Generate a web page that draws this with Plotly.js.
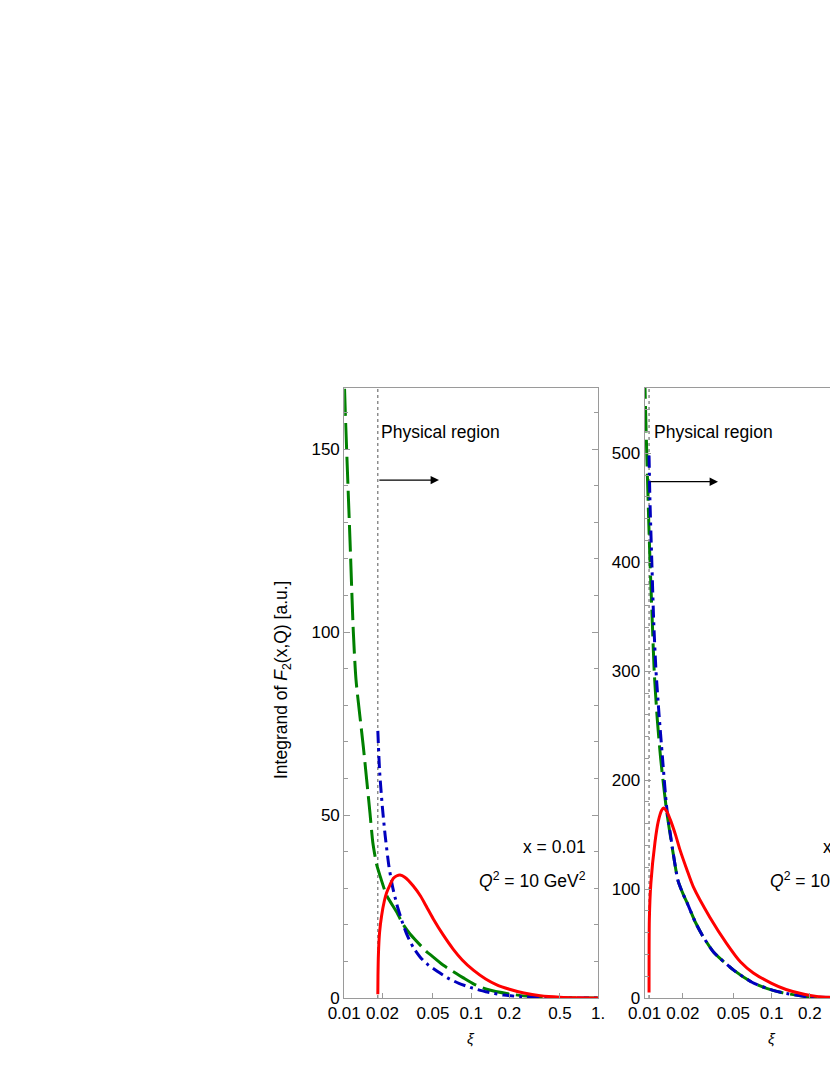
<!DOCTYPE html>
<html>
<head>
<meta charset="utf-8">
<script src="https://cdn.plot.ly/plotly-3.0.1.min.js"></script>
<style>
html,body{margin:0;padding:0;overflow:hidden;background:#fff;}
#chart{width:1000px;height:1075px;}
</style>
</head>
<body>
<div id="chart"></div>
<script>
// ---------------- data ----------------
// Left panel: x = 0.01, Q^2 = 10 GeV^2
const threshLeft = 0.0184;
const greenLeftXi  = [0.0100,0.01006,0.01046,0.01111,0.0118,0.01239,0.01414,0.01596,0.0168,0.0180,0.0191,0.0216,0.0259,0.0292,0.033,0.0447,0.0474,0.0600,0.0769,0.0867,0.1050,0.1324,0.20,0.30,0.50,1.0];
const greenLeftVal = [185,166.7,149.5,125,100,86.9,68.7,50.5,42.5,36.5,33.5,28,23.5,20,17.5,12.6,11.9,9.0,6.6,5.5,3.8,2.4,1.1,0.35,0.05,0];
const blueLeftXi   = [0.0184,0.0190,0.0200,0.0210,0.0225,0.0240,0.0260,0.0285,0.0310,0.0350,0.0400,0.0460,0.0540,0.0650,0.0800,0.0980,0.130,0.180,0.250,0.400,1.0];
const blueLeftVal  = [73,62,52,44.5,36,30.5,25.5,21,17.5,13.8,11,9,7.3,5.5,4.0,2.9,1.7,0.8,0.35,0.08,0];
const redLeftXi    = [0.0184,0.01845,0.0186,0.0190,0.0197,0.0207,0.0216,0.0230,0.0244,0.0260,0.0275,0.0300,0.0350,0.0400,0.0447,0.0503,0.0600,0.0723,0.0850,0.1040,0.130,0.159,0.200,0.260,0.350,0.500,0.700,1.0];
const redLeftVal   = [1,6,12,18,22.5,26.5,28.8,31,32.7,33.4,33.6,33.0,30.6,27.8,24.8,21.6,17.3,13.3,10.4,7.6,5.2,3.6,2.4,1.35,0.6,0.2,0.05,0];

// Right panel: x = 0.01, Q^2 = 100 GeV^2
const threshRight = 0.01084;
const greenRightXi  = [0.0100,0.0102,0.0104,0.0107,0.0110,0.0115,0.0119,0.0126,0.0134,0.0149,0.0165,0.0183,0.0200,0.0215,0.0250,0.0290,0.0350,0.0500,0.0700,0.0914,0.120,0.189,0.300,0.500,1.0];
const greenRightVal = [575,535,500,450,405,345,300,255,219,172,138,108,96,88,70,56,42,25.8,14.5,8.9,5,1.2,0.3,0.05,0];
const blueRightXi   = [0.01084,0.0110,0.0114,0.0118,0.0123,0.0130,0.0138,0.0149,0.0165,0.0183,0.0200,0.0215,0.0250,0.0290,0.0350,0.0500,0.0700,0.0914,0.120,0.189,0.300,0.500,1.0];
const blueRightVal  = [498,460,400,345,300,260,222,176,139,108,96,88,70,56,42,25.8,14.5,8.9,5,1.2,0.3,0.05,0];
const redRightXi    = [0.01084,0.01090,0.0112,0.01207,0.0128,0.01364,0.0141,0.0150,0.0159,0.0175,0.0190,0.0215,0.0242,0.0327,0.0443,0.0570,0.0718,0.100,0.130,0.180,0.2265,0.300,0.500,1.0];
const redRightVal   = [5,72,105,143,162,172.5,174.5,171,164,150,136,118,102,74,50,33,23,13.5,7.8,3.4,1.5,0.6,0.1,0];

const xTickVals = [0.01,0.02,0.05,0.1,0.2,0.5,1];
const xTickText = ['0.01','0.02','0.05','0.1','0.2','0.5','1.'];
const yMaxLeft = 166.67;
const yMaxRight = 560;

// ---------------- styling ----------------
const FONT = 'Liberation Sans, Arial, Helvetica, sans-serif';
const FS = 17;
const FA = 17.5;
const FRAME = '#9a9a9a';
const GREEN = 'rgb(0,128,0)';
const BLUE = 'rgb(0,0,190)';
const RED = 'rgb(255,0,0)';
const W = 1000, H = 1075;

function curve(x, y, color, dash, xa, ya) {
  return {x: x, y: y, xaxis: xa, yaxis: ya, type: 'scatter', mode: 'lines',
    line: {color: color, width: 3, dash: dash, shape: 'spline', smoothing: 0.6},
    hoverinfo: 'skip', showlegend: false};
}
function vline(t, ymax, xa, ya) {
  return {x: [t, t], y: [0, ymax], xaxis: xa, yaxis: ya, type: 'scatter', mode: 'lines',
    line: {color: '#555', width: 1, dash: 'dot'}, hoverinfo: 'skip', showlegend: false};
}
const GDASH = '27px,7px';
const BDASH = '12px,5px,3px,5px';

const data = [
  vline(threshLeft, yMaxLeft, 'x', 'y'),
  curve(greenLeftXi, greenLeftVal, GREEN, GDASH, 'x', 'y'),
  curve(blueLeftXi, blueLeftVal, BLUE, BDASH, 'x', 'y'),
  curve(redLeftXi, redLeftVal, RED, 'solid', 'x', 'y'),
  vline(threshRight, yMaxRight, 'x2', 'y2'),
  curve(greenRightXi, greenRightVal, GREEN, GDASH, 'x2', 'y2'),
  curve(blueRightXi, blueRightVal, BLUE, BDASH, 'x2', 'y2'),
  curve(redRightXi, redRightVal, RED, 'solid', 'x2', 'y2')
];

const yDom = [77 / H, 687 / H];
function xAxis(dom, anchor) {
  return {type: 'log', domain: dom, anchor: anchor, range: [-2, 0],
    tickmode: 'array', tickvals: xTickVals, ticktext: xTickText,
    ticks: 'inside', ticklen: 5, tickcolor: FRAME, tickwidth: 1,
    showline: true, linecolor: FRAME, linewidth: 1, mirror: true,
    showgrid: false, zeroline: false, fixedrange: true,
    tickfont: {family: FONT, size: FS, color: '#000'}};
}
function yAxis(anchor, ymax, dtick, minor) {
  return {domain: yDom, anchor: anchor, range: [0, ymax], tick0: 0, dtick: dtick,
    ticks: 'inside', ticklen: 6, tickcolor: FRAME, tickwidth: 1,
    minor: {dtick: minor, tick0: 0, ticks: 'inside', ticklen: 4, tickcolor: FRAME, tickwidth: 1},
    showline: true, linecolor: FRAME, linewidth: 1, mirror: 'ticks',
    showgrid: false, zeroline: false, fixedrange: true,
    tickfont: {family: FONT, size: FS, color: '#000'}};
}

const txt = {family: FONT, size: FA, color: '#000'};
const annotations = [
  // y title
  {xref: 'paper', yref: 'paper', x: 282 / W, y: (H - 680) / H, textangle: -90,
   text: 'Integrand of <i>F</i><sub>2</sub>(x,Q) [a.u.]', showarrow: false,
   xanchor: 'center', yanchor: 'middle', font: txt},
  // x titles
  {xref: 'x domain', yref: 'paper', x: 0.5, y: (H - 1038) / H, text: '<i>ξ</i>',
   showarrow: false, xanchor: 'center', yanchor: 'middle', font: {family: FONT, size: 15, color: '#000'}},
  {xref: 'x2 domain', yref: 'paper', x: 0.5, y: (H - 1038) / H, text: '<i>ξ</i>',
   showarrow: false, xanchor: 'center', yanchor: 'middle', font: {family: FONT, size: 15, color: '#000'}},
  // physical region labels
  {xref: 'x domain', yref: 'y domain', x: 0.137, y: 0.928, text: 'Physical region',
   showarrow: false, xanchor: 'left', yanchor: 'middle', font: txt},
  {xref: 'x2 domain', yref: 'y2 domain', x: 0.029, y: 0.928, text: 'Physical region',
   showarrow: false, xanchor: 'left', yanchor: 'middle', font: txt},
  // arrows
  {xref: 'x', yref: 'y', axref: 'x', ayref: 'y', x: -1.2535, y: 141.5, ax: Math.log10(threshLeft), ay: 141.5,
   text: '', showarrow: true, arrowhead: 2, arrowsize: 1.4, arrowwidth: 1.2, arrowcolor: '#000', standoff: 0, startstandoff: 0},
  {xref: 'x2', yref: 'y2', axref: 'x2', ayref: 'y2', x: -1.422, y: 474, ax: Math.log10(threshRight), ay: 474,
   text: '', showarrow: true, arrowhead: 2, arrowsize: 1.4, arrowwidth: 1.2, arrowcolor: '#000', standoff: 0, startstandoff: 0},
  // kinematics labels
  {xref: 'x domain', yref: 'y domain', x: 0.958, y: (998 - 847) / 610, text: 'x = 0.01',
   showarrow: false, xanchor: 'right', yanchor: 'middle', font: txt},
  {xref: 'x domain', yref: 'y domain', x: 0.958, y: (998 - 880) / 610, text: '<i>Q</i><sup>2</sup> = 10 GeV<sup>2</sup>',
   showarrow: false, xanchor: 'right', yanchor: 'middle', font: txt},
  {xref: 'x2 domain', yref: 'y2 domain', x: 0.958, y: (998 - 847) / 610, text: 'x = 0.01',
   showarrow: false, xanchor: 'right', yanchor: 'middle', font: txt},
  {xref: 'x2 domain', yref: 'y2 domain', x: 0.958, y: (998 - 880) / 610, text: '<i>Q</i><sup>2</sup> = 100 GeV<sup>2</sup>',
   showarrow: false, xanchor: 'right', yanchor: 'middle', font: txt}
];

const layout = {
  width: W, height: H,
  margin: {l: 0, r: 0, t: 0, b: 0},
  paper_bgcolor: '#fff', plot_bgcolor: '#fff',
  showlegend: false,
  font: {family: FONT, size: FS, color: '#000'},
  xaxis: xAxis([344.2 / W, 598.2 / W], 'y'),
  yaxis: yAxis('x', yMaxLeft, 50, 10),
  xaxis2: xAxis([644.6 / W, 898.6 / W], 'y2'),
  yaxis2: yAxis('x2', yMaxRight, 100, 20),
  annotations: annotations
};

Plotly.newPlot('chart', data, layout, {staticPlot: true, displayModeBar: false});
</script>
</body>
</html>
